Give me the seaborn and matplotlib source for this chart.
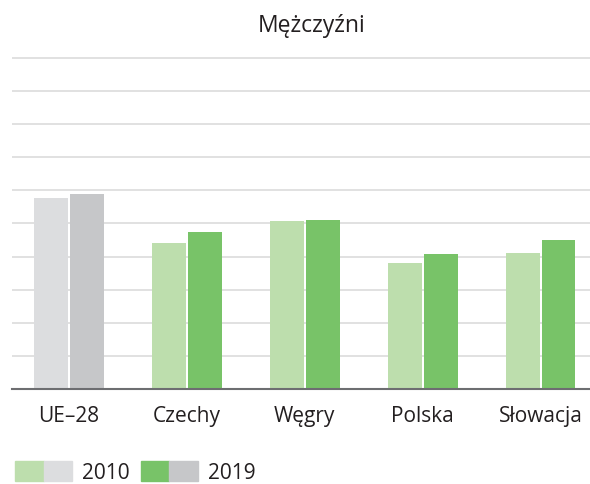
import pandas as pd
import matplotlib.pyplot as plt
import seaborn as sns
from matplotlib.patches import Patch
from matplotlib.legend_handler import HandlerTuple

kraje = ["UE–28", "Czechy", "Węgry", "Polska", "Słowacja"]
lata = ["2010", "2019"]
wart_2010 = [57.7, 44.1, 50.8, 38.1, 41.1]
wart_2019 = [58.9, 47.5, 51.1, 40.8, 45.0]

zielony_jasny = "#bddead"
zielony = "#78c368"
szary_jasny = "#dcdddf"
szary = "#c6c7c9"
tekst = "#231f20"

df = pd.DataFrame({
    "kraj": kraje * 2,
    "rok": [lata[0]] * 5 + [lata[1]] * 5,
    "wartosc": wart_2010 + wart_2019,
})

sns.set_theme(style="white")
plt.rcParams["font.family"] = ["Open Sans", "DejaVu Sans"]

fig = plt.figure(figsize=(5.9, 4.84), dpi=100)
ax = fig.add_axes([12 / 590, 94.7 / 484, 578 / 590, 335.1 / 484])

sns.barplot(data=df, x="kraj", y="wartosc", hue="rok", order=kraje,
            palette=[zielony_jasny, zielony], width=0.61, gap=0.056,
            saturation=1, linewidth=0, legend=False, ax=ax)

# UE-28 na szaro
ax.containers[0][0].set_facecolor(szary_jasny)
ax.containers[1][0].set_facecolor(szary)

ax.set_xlim(-0.485, 4.42)
ax.set_ylim(0, 101)
ax.set_yticks(range(10, 101, 10))
ax.yaxis.grid(True, color="#dcdcdc", linewidth=1.2)
ax.set_axisbelow(True)
ax.set_yticklabels([])
ax.set_xlabel("")
ax.set_ylabel("")
for s in ["top", "right", "left"]:
    ax.spines[s].set_visible(False)
ax.spines["bottom"].set_color("#6d6e71")
ax.spines["bottom"].set_linewidth(1.5)
ax.tick_params(axis="x", length=0, pad=12, labelsize=15, labelcolor=tekst)
ax.tick_params(axis="y", length=0)

fig.text(311.5 / 590, 1 - 32 / 484, "Mężczyźni", ha="center", va="baseline",
         fontsize=16.5, color=tekst)

uchwyty = [(Patch(color=zielony_jasny), Patch(color=szary_jasny)),
           (Patch(color=zielony), Patch(color=szary))]
leg = fig.legend(uchwyty, lata, loc="center left",
                 bbox_to_anchor=(15 / 590, 1 - 472.5 / 484), ncol=2,
                 frameon=False, fontsize=15, borderpad=0, borderaxespad=0,
                 handlelength=2.74, handleheight=1.1, handletextpad=0.48,
                 columnspacing=0.53,
                 handler_map={tuple: HandlerTuple(ndivide=None, pad=0)})
for t in leg.get_texts():
    t.set_color(tekst)

fig.savefig("out.png", dpi=100)
